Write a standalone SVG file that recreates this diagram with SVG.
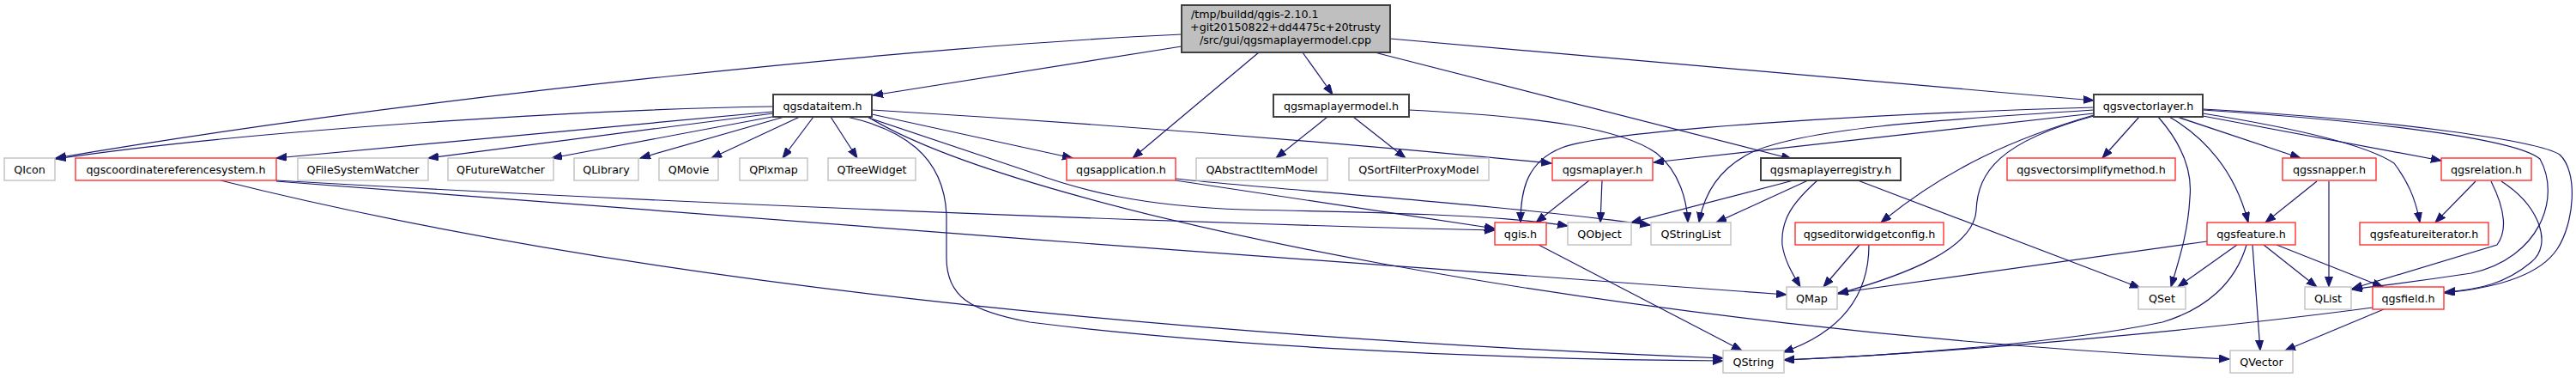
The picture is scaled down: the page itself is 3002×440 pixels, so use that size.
<svg xmlns="http://www.w3.org/2000/svg" width="3002" height="440" viewBox="0 0 3002 440">
<style>
.n rect{fill:#fff;stroke-width:1.4}
.g rect{stroke:#c0c0c0}
.r rect{stroke:#ff3030}
.b rect{stroke:#404040;stroke-width:2}
.root rect{fill:#bfbfbf;stroke:#404040;stroke-width:2}
text{font-family:"DejaVu Sans",sans-serif;font-size:12.7px;fill:#000;text-anchor:middle}
.e{fill:none;stroke:#191970;stroke-width:1.2;marker-end:url(#a)}
</style>
<defs>
<marker id="a" markerUnits="userSpaceOnUse" markerWidth="14" markerHeight="10" refX="12" refY="4.5" orient="auto"><path d="M0,0L12,4.5L0,9z" fill="#191970" stroke="#191970" stroke-width="1"/></marker>
</defs>
<rect width="3002" height="440" fill="#fff"/>
<g id="edges">
<path class="e" d="M1377,40 C1100,52 500,110 65,184"/>
<path class="e" d="M1377,54 L1017,111"/>
<path class="e" d="M1467,61 L1320,184"/>
<path class="e" d="M1518,61 L1553,110"/>
<path class="e" d="M1602,61 L2088,185"/>
<path class="e" d="M1620,45 L2440,117"/>
<path class="e" d="M901,124 C700,127 300,150 65,185"/>
<path class="e" d="M901,130 L322,184"/>
<path class="e" d="M901,132 L499,184"/>
<path class="e" d="M905,135 L643,184"/>
<path class="e" d="M914,136 L746,184"/>
<path class="e" d="M932,136 L829,184"/>
<path class="e" d="M948,136 L912,184"/>
<path class="e" d="M968,136 L999,184"/>
<path class="e" d="M1016,128 C1300,145 1600,170 1808,190"/>
<path class="e" d="M1016,133 L1250,184"/>
<path class="e" d="M1012,137 L1200,200 C1260,222 1330,240 1450,244 C1600,247 1750,250 1827,263"/>
<path class="e" d="M1013,137 C1200,250 1900,385 2598,418"/>
<path class="e" d="M987,136 C1050,150 1100,180 1103,250 L1103,300 C1103,345 1130,362 1200,375 C1400,400 1700,418 2008,420"/>
<path class="e" d="M322,210 C700,232 1300,258 1742,268"/>
<path class="e" d="M322,211 C800,248 1600,310 2082,343"/>
<path class="e" d="M257,210 C757,335 1408,393 2008,417"/>
<path class="e" d="M1370,208 C1500,222 1750,238 1923,262"/>
<path class="e" d="M1370,210 L1742,266"/>
<path class="e" d="M1547,136 L1487,184"/>
<path class="e" d="M1577,136 L1638,184"/>
<path class="e" d="M1642,128 C1800,136 1890,150 1930,178 C1958,200 1966,235 1967,259"/>
<path class="e" d="M1852,210 L1790,259"/>
<path class="e" d="M1867,210 L1865,259"/>
<path class="e" d="M1793,285 L2030,408"/>
<path class="e" d="M2090,210 L1901,259"/>
<path class="e" d="M2107,210 L2000,259"/>
<path class="e" d="M2118,210 C2090,235 2075,255 2077,285 C2080,305 2090,320 2098,334"/>
<path class="e" d="M2165,210 L2494,335"/>
<path class="e" d="M2167,285 L2125,334"/>
<path class="e" d="M2178,285 C2178,340 2150,385 2078,410"/>
<path class="e" d="M2440,125 C2200,132 1880,150 1820,172 C1780,188 1772,220 1772,259"/>
<path class="e" d="M2440,132 L1927,189"/>
<path class="e" d="M2440,128 C2250,140 2100,150 2040,178 C2000,198 1985,230 1980,259"/>
<path class="e" d="M2440,134 C2350,160 2270,195 2192,259"/>
<path class="e" d="M2440,135 C2330,165 2305,200 2303,245 C2300,290 2220,320 2142,342"/>
<path class="e" d="M2493,136 L2450,184"/>
<path class="e" d="M2515,136 C2545,170 2555,200 2552,230 C2550,270 2540,300 2530,334"/>
<path class="e" d="M2528,136 C2570,160 2605,200 2620,259"/>
<path class="e" d="M2537,136 L2681,184"/>
<path class="e" d="M2567,135 L2845,187"/>
<path class="e" d="M2567,132 C2680,150 2760,170 2790,190 C2805,210 2815,230 2820,259"/>
<path class="e" d="M2567,128 C2750,140 2930,160 2960,185 C2985,230 2960,300 2880,318 C2800,330 2770,333 2741,337"/>
<path class="e" d="M2567,127 C2800,140 2960,165 2983,180 C3005,200 3000,260 2980,290 C2960,320 2910,335 2849,341"/>
<path class="e" d="M2700,211 L2640,259"/>
<path class="e" d="M2714,211 L2714,334"/>
<path class="e" d="M2885,211 L2838,259"/>
<path class="e" d="M2903,211 C2915,235 2925,265 2910,285 L2741,336"/>
<path class="e" d="M2915,211 C2960,240 2975,285 2950,305 C2920,330 2890,337 2849,340"/>
<path class="e" d="M2572,281 L2142,341"/>
<path class="e" d="M2607,285 L2538,334"/>
<path class="e" d="M2618,285 C2605,330 2570,360 2520,375 C2400,400 2200,414 2079,419"/>
<path class="e" d="M2625,285 L2634,408"/>
<path class="e" d="M2638,285 L2700,334"/>
<path class="e" d="M2653,285 L2777,334"/>
<path class="e" d="M2765,358 C2600,380 2300,410 2079,419"/>
<path class="e" d="M2778,360 L2663,408"/>
</g>
<g id="root" class="n root"><rect x="1377" y="6" width="243" height="55"/>
<text x="1388" y="21" style="text-anchor:start">/tmp/buildd/qgis-2.10.1</text>
<text x="1498" y="36">+git20150822+dd4475c+20trusty</text>
<text x="1498" y="50.5">/src/gui/qgsmaplayermodel.cpp</text></g>
<g id="qgsdataitem" class="n b"><rect x="901" y="110" width="115" height="26"/><text x="958.5" y="127.5">qgsdataitem.h</text></g>
<g id="qgsmaplayermodel" class="n b"><rect x="1484" y="110" width="158" height="26"/><text x="1563" y="127.5">qgsmaplayermodel.h</text></g>
<g id="qgsvectorlayer" class="n b"><rect x="2440" y="110" width="127" height="26"/><text x="2503.5" y="127.5">qgsvectorlayer.h</text></g>
<g id="QIcon" class="n g"><rect x="5" y="184" width="59" height="26"/><text x="34.5" y="201.5">QIcon</text></g>
<g id="qgscrs" class="n r"><rect x="88" y="184" width="234" height="26"/><text x="205" y="201.5">qgscoordinatereferencesystem.h</text></g>
<g id="QFileSystemWatcher" class="n g"><rect x="347" y="184" width="152" height="26"/><text x="423" y="201.5">QFileSystemWatcher</text></g>
<g id="QFutureWatcher" class="n g"><rect x="522" y="184" width="123" height="26"/><text x="583.5" y="201.5">QFutureWatcher</text></g>
<g id="QLibrary" class="n g"><rect x="669" y="184" width="75" height="26"/><text x="706.5" y="201.5">QLibrary</text></g>
<g id="QMovie" class="n g"><rect x="768" y="184" width="69" height="26"/><text x="802.5" y="201.5">QMovie</text></g>
<g id="QPixmap" class="n g"><rect x="862" y="184" width="79" height="26"/><text x="901.5" y="201.5">QPixmap</text></g>
<g id="QTreeWidget" class="n g"><rect x="965" y="184" width="102" height="26"/><text x="1016" y="201.5">QTreeWidget</text></g>
<g id="qgsapplication" class="n r"><rect x="1243" y="184" width="127" height="26"/><text x="1306.5" y="201.5">qgsapplication.h</text></g>
<g id="QAbstractItemModel" class="n g"><rect x="1394" y="184" width="153" height="26"/><text x="1470.5" y="201.5">QAbstractItemModel</text></g>
<g id="QSortFilterProxyModel" class="n g"><rect x="1572" y="184" width="163" height="26"/><text x="1653.5" y="201.5">QSortFilterProxyModel</text></g>
<g id="qgsmaplayer" class="n r"><rect x="1809" y="184" width="117" height="26"/><text x="1867.5" y="201.5">qgsmaplayer.h</text></g>
<g id="qgsmaplayerregistry" class="n b"><rect x="2052" y="184" width="163" height="26"/><text x="2133.5" y="201.5">qgsmaplayerregistry.h</text></g>
<g id="qgsvectorsimplifymethod" class="n r"><rect x="2339" y="184" width="196" height="26"/><text x="2437" y="201.5">qgsvectorsimplifymethod.h</text></g>
<g id="qgssnapper" class="n r"><rect x="2660" y="184" width="109" height="26"/><text x="2714.5" y="201.5">qgssnapper.h</text></g>
<g id="qgsrelation" class="n r"><rect x="2845" y="184" width="105" height="26"/><text x="2897.5" y="201.5">qgsrelation.h</text></g>
<g id="qgis" class="n r"><rect x="1742" y="259" width="60" height="26"/><text x="1772" y="276.5">qgis.h</text></g>
<g id="QObject" class="n g"><rect x="1827" y="259" width="74" height="26"/><text x="1864" y="276.5">QObject</text></g>
<g id="QStringList" class="n g"><rect x="1924" y="259" width="93" height="26"/><text x="1970.5" y="276.5">QStringList</text></g>
<g id="qgseditorwidgetconfig" class="n r"><rect x="2092" y="259" width="173" height="26"/><text x="2178.5" y="276.5">qgseditorwidgetconfig.h</text></g>
<g id="qgsfeature" class="n r"><rect x="2572" y="259" width="103" height="26"/><text x="2623.5" y="276.5">qgsfeature.h</text></g>
<g id="qgsfeatureiterator" class="n r"><rect x="2750" y="259" width="150" height="26"/><text x="2825" y="276.5">qgsfeatureiterator.h</text></g>
<g id="QMap" class="n g"><rect x="2082" y="334" width="59" height="26"/><text x="2111.5" y="351.5">QMap</text></g>
<g id="QSet" class="n g"><rect x="2492" y="334" width="55" height="26"/><text x="2519.5" y="351.5">QSet</text></g>
<g id="QList" class="n g"><rect x="2686" y="334" width="54" height="26"/><text x="2713" y="351.5">QList</text></g>
<g id="qgsfield" class="n r"><rect x="2765" y="334" width="83" height="26"/><text x="2806.5" y="351.5">qgsfield.h</text></g>
<g id="QString" class="n g"><rect x="2008" y="408" width="71" height="26"/><text x="2043.5" y="425.5">QString</text></g>
<g id="QVector" class="n g"><rect x="2599" y="408" width="73" height="26"/><text x="2635.5" y="425.5">QVector</text></g>
</svg>
